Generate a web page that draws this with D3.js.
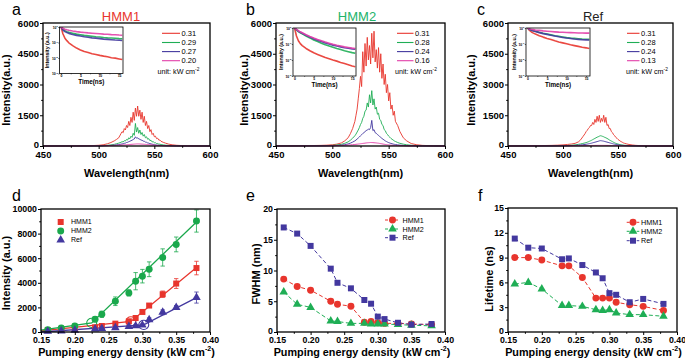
<!DOCTYPE html>
<html><head><meta charset="utf-8">
<script src="https://cdn.jsdelivr.net/npm/d3@7"></script>
<style>body{margin:0;background:#fff}svg{display:block}</style>
</head><body>
<svg id="c" width="685" height="360"></svg>
<script>
// ---------------- DATA ----------------
const wavelengths = [450,460,470,480,490,495,500,504,508,511,514,516,518,
 520,521,522,523,524,525,526,527,528,529,530,531,532,533,534,535,536,537,538,539,
 540,541,542,543,544,545,546,547,548,549,550,551,552,553,554,555,556,
 558,560,563,566,570,575,580,590,600];

const hmm1Labels = ["0.31","0.29","0.27","0.20"];
const hmm1Spec031 = [3,4,5,8,15,22,35,60,110,170,250,320,400,
 600,700,650,850,780,1000,900,1200,1000,1400,
 1150,1650,1250,1850,1450,1950,1450,1750,1300,1650,
 1150,1450,1000,1200,850,1000,700,800,560,620,
 450,480,360,380,290,290,230,
 180,140,90,60,35,20,10,5,3];
const hmm1Spec029 = [2,2,3,4,6,8,12,20,35,55,80,110,140,
 180,210,200,260,240,320,290,400,350,480,
 420,620,520,1100,680,900,620,780,560,660,
 480,560,400,450,330,360,260,280,200,210,
 160,160,120,120,90,90,70,
 55,40,28,18,10,6,3,2,1];
const hmm1Spec027 = [1,1,2,2,3,4,6,10,18,28,40,55,70,
 90,100,110,130,140,170,180,210,230,260,
 280,320,340,450,380,400,340,330,290,280,
 240,230,190,180,150,140,115,105,88,80,
 65,58,48,42,35,30,26,
 20,15,10,7,4,3,2,1,1];
const hmm1Spec020 = [1,1,2,3,5,7,10,14,20,26,32,37,42,
 47,50,53,57,60,64,68,72,76,80,
 84,88,92,96,100,102,100,98,95,92,
 88,84,80,75,70,65,60,55,50,45,
 41,37,33,30,27,24,22,
 18,15,11,8,5,3,2,1,1];

const hmm2Labels = ["0.31","0.28","0.24","0.16"];
const hmm2Spec031 = [10,12,15,20,30,40,60,90,150,250,400,600,850,
 1200,1500,1800,2300,2800,3400,2900,4600,3600,5000,
 3900,5300,4200,4900,4000,5500,4300,5600,4100,4700,
 3800,4800,3600,4500,3300,4000,3000,3500,2600,3000,
 2200,2600,1800,2000,1500,1700,1200,
 1000,700,400,250,120,60,30,10,5];
const hmm2Spec028 = [5,6,8,10,15,20,30,50,80,130,200,280,380,
 500,580,680,780,900,1050,1150,1350,1450,1700,
 1750,2100,1900,2500,2100,2700,2000,2300,1800,1900,
 1550,1600,1300,1250,1050,1000,800,750,620,560,
 480,430,370,330,290,250,220,
 170,130,90,60,35,18,10,4,2];
const hmm2Spec024 = [3,3,4,5,8,10,15,25,40,65,100,140,190,
 250,290,340,390,440,500,550,610,650,700,
 750,780,820,800,900,1250,750,800,650,620,
 560,520,460,420,370,330,290,250,220,190,
 165,145,125,110,95,82,72,
 55,42,28,18,10,6,3,2,1];
const hmm2Spec016 = [2,2,3,4,6,8,12,18,26,35,46,55,65,
 75,82,88,95,102,110,118,125,132,140,
 148,155,160,165,170,168,165,160,155,150,
 142,135,125,115,105,95,85,76,68,60,
 53,47,41,36,32,28,25,
 20,16,11,8,5,3,2,1,1];

const refLabels = ["0.31","0.28","0.24","0.13"];
const refSpec031 = [5,8,12,20,30,40,55,75,100,130,200,300,450,
 600,700,760,850,900,1000,1000,1150,1050,1300,
 1150,1450,1200,1500,1150,1350,1200,1500,1150,1400,
 1000,1050,850,850,700,650,550,500,420,380,
 320,280,240,210,180,150,130,
 100,75,50,32,18,10,6,3,2];
const refSpec028 = [3,4,5,7,10,13,18,25,38,55,80,100,125,
 150,165,185,205,230,255,280,310,340,370,
 400,430,450,480,500,490,470,450,420,400,
 370,340,300,270,240,210,180,155,130,110,
 95,80,68,58,50,42,36,
 28,22,15,10,6,4,2,1,1];
const refSpec024 = [2,2,3,4,6,8,10,14,20,28,40,50,62,
 75,84,94,104,115,127,140,155,170,185,
 200,215,230,250,260,255,245,235,220,205,
 190,175,160,145,130,115,100,88,76,65,
 56,48,41,35,30,26,22,
 17,13,9,6,4,2,1,1,1];
const refSpec013 = [3,3,4,5,6,7,8,9,11,13,15,17,19,
 20,21,22,23,24,25,26,27,28,29,
 30,30,31,31,32,32,31,31,30,30,
 29,28,27,26,25,24,23,22,21,20,
 19,18,17,16,15,14,13,
 12,10,9,7,6,5,4,3,2];

// inset decay curves (log10 of normalised intensity)
const decayTimes = [0,0.5,1,1.5,2,3,4,5,6,7,8,9,10,11,12,13,14,15,15.8];
const hmm1Decay = [
 [0,-0.45,-0.72,-0.88,-1.02,-1.2,-1.36,-1.48,-1.58,-1.64,-1.72,-1.77,-1.83,-1.88,-1.92,-1.98,-2.01,-2.06,-2.1],
 [0,-0.14,-0.24,-0.3,-0.34,-0.4,-0.46,-0.5,-0.54,-0.57,-0.6,-0.63,-0.65,-0.68,-0.7,-0.71,-0.73,-0.75,-0.76],
 [0,-0.2,-0.3,-0.36,-0.41,-0.48,-0.54,-0.58,-0.63,-0.66,-0.7,-0.72,-0.75,-0.78,-0.8,-0.82,-0.84,-0.85,-0.87],
 [0,-0.08,-0.14,-0.18,-0.21,-0.26,-0.3,-0.33,-0.35,-0.38,-0.4,-0.42,-0.44,-0.46,-0.47,-0.49,-0.5,-0.52,-0.53]];
const hmm2Decay = [
 [0,-0.5,-0.8,-0.98,-1.1,-1.28,-1.42,-1.55,-1.65,-1.75,-1.85,-1.92,-2.0,-2.07,-2.15,-2.22,-2.3,-2.38,-2.42],
 [0,-0.12,-0.22,-0.3,-0.37,-0.5,-0.62,-0.75,-0.85,-0.95,-1.05,-1.12,-1.2,-1.28,-1.35,-1.42,-1.48,-1.54,-1.58],
 [0,-0.1,-0.2,-0.27,-0.33,-0.45,-0.56,-0.67,-0.76,-0.85,-0.93,-1.0,-1.07,-1.13,-1.18,-1.23,-1.27,-1.31,-1.33],
 [0,-0.08,-0.17,-0.24,-0.3,-0.42,-0.53,-0.63,-0.72,-0.8,-0.88,-0.95,-1.02,-1.08,-1.13,-1.18,-1.22,-1.26,-1.28]];
const refDecay = [
 [0,-0.15,-0.25,-0.32,-0.38,-0.48,-0.57,-0.65,-0.72,-0.8,-0.87,-0.93,-0.99,-1.05,-1.1,-1.15,-1.2,-1.24,-1.28],
 [0,-0.08,-0.13,-0.17,-0.2,-0.27,-0.33,-0.38,-0.43,-0.48,-0.52,-0.56,-0.6,-0.63,-0.65,-0.67,-0.69,-0.7,-0.71],
 [0,-0.08,-0.14,-0.18,-0.22,-0.29,-0.35,-0.4,-0.45,-0.5,-0.55,-0.59,-0.63,-0.66,-0.69,-0.71,-0.73,-0.74,-0.75],
 [0,-0.05,-0.08,-0.1,-0.12,-0.15,-0.18,-0.2,-0.22,-0.24,-0.26,-0.27,-0.28,-0.29,-0.3,-0.31,-0.31,-0.32,-0.32]];

// pumping density panels
const pump = [0.16,0.18,0.20,0.23,0.24,0.26,0.28,0.29,0.30,0.31,0.33,0.35,0.38];
const intHMM1 = [150,220,280,380,490,680,870,1140,1630,2150,3070,3940,5200];
const errHMM1 = [30,40,50,60,80,80,100,120,120,150,260,400,550];
const intHMM2 = [190,330,490,1030,1440,2500,3180,4130,4540,5100,6060,7120,9020];
const errHMM2 = [60,80,100,200,250,350,250,700,550,600,700,600,900];
const intRef  = [50,90,140,250,290,350,450,500,560,1000,1600,2000,2800];
const errRef  = [30,30,40,50,60,70,80,90,100,150,200,150,450];
const fitHMM1 = [[0.15,90],[0.283,860],[0.38,5250]];
const fitHMM2 = [[0.15,150],[0.225,740],[0.38,8950]];
const fitRef  = [[0.15,0],[0.302,580],[0.38,2800]];

const fwhmHMM1 = [8.6,7.4,6.8,5.0,4.5,4.2,1.6,1.7,1.5,1.4,1.4,1.3,1.2];
const fwhmHMM2 = [6.5,4.5,4.0,1.8,1.7,1.4,1.4,1.3,1.3,1.3,1.2,1.1,1.0];
const fwhmRef  = [17,16,14,10.3,8.0,7.1,5.2,4.6,2.5,2.1,1.5,1.2,1.3];

const lifeHMM1 = [9.0,9.0,8.7,8.0,8.0,6.6,4.1,4.1,4.1,3.6,3.3,3.1,2.6];
const lifeHMM2 = [5.8,6.0,5.2,3.2,3.2,3.1,2.7,2.6,2.7,2.3,2.1,2.1,1.9];
const lifeRef  = [11.3,10.2,10.1,8.8,8.9,8.1,7.2,6.5,4.7,4.5,3.6,4.0,3.4];

const sampleNames = ["HMM1","HMM2","Ref"];

// ---------------- STYLE ----------------
const FONT = "'Liberation Sans', Arial, Helvetica, sans-serif";
const RED = "#e8352d", GREEN = "#1fae55", BLUE = "#43389f", PINK = "#e23fa8";
const specColors = [RED, GREEN, BLUE, PINK];
const svg = d3.select("#c").attr("font-family", FONT);

function drawAxes(g, x, y, o) {
  const yb = y.range()[0], yt = y.range()[1], xl = x.range()[0], xr = x.range()[1];
  const major = o.major ?? 3, minor = o.minor ?? 1.8;
  const bx = g.append("g").attr("transform", `translate(0,${yb})`);
  if (o.xMinor) bx.append("g").call(d3.axisBottom(x).tickValues(o.xMinor).tickSize(minor).tickFormat(""));
  bx.append("g").call(d3.axisBottom(x).tickValues(o.xTicks).tickSize(major).tickPadding(o.xpad ?? 1.5).tickFormat(o.xFmt));
  const ly = g.append("g").attr("transform", `translate(${xl},0)`);
  if (o.yMinor) ly.append("g").call(d3.axisLeft(y).tickValues(o.yMinor).tickSize(minor).tickFormat(""));
  ly.append("g").call(d3.axisLeft(y).tickValues(o.yTicks).tickSize(major).tickPadding(o.ypad ?? 1).tickFormat(o.yFmt));
  g.selectAll(".domain").remove();
  g.selectAll(".tick line").attr("stroke", "#000").attr("stroke-width", o.tw ?? 1);
  g.selectAll(".tick text").attr("font-size", o.fs).attr("font-weight", o.fw ?? "bold")
    .attr("font-family", FONT).attr("fill", "#000");
  g.append("rect").attr("x", xl).attr("y", yt).attr("width", xr - xl).attr("height", yb - yt)
    .attr("fill", "none").attr("stroke", "#000").attr("stroke-width", o.sw ?? 1.3);
  return {bx, ly};
}

function nudgeZero(ly) {
  // lift the y-axis "0" label a little so it clears the first x label
  ly.selectAll(".tick").filter(d => d === 0).select("text").attr("dy", "0.12em");
}

function supText(sel, main, sup, tail, supSize) {
  sel.append("tspan").text(main);
  sel.append("tspan").attr("dy", -supSize * 0.7).attr("font-size", supSize).text(sup);
  if (tail !== undefined) sel.append("tspan").attr("dy", supSize * 0.7).text(tail);
}

function rotText(x, y, txt, fs) {
  svg.append("text").attr("transform", `translate(${x},${y}) rotate(-90)`)
    .attr("text-anchor", "middle").attr("font-size", fs).attr("font-weight", "bold").text(txt);
}

let clipId = 0;
function clip(g, x0, y0, w, h) {
  const id = "cl" + (clipId++);
  svg.append("clipPath").attr("id", id).append("rect").attr("x", x0).attr("y", y0).attr("width", w).attr("height", h);
  return g.append("g").attr("clip-path", `url(#${id})`);
}

// ---------------- SPECTRA PANELS ----------------
function spectraPanel(p) {
  const g = svg.append("g");
  const x = d3.scaleLinear().domain([450, 600]).range([p.x0, p.x1]);
  const y = d3.scaleLinear().domain([0, 6000]).range([p.y1, p.y0]);
  const cg = clip(g, p.x0, p.y0, p.x1 - p.x0, p.y1 - p.y0 + 1);
  const line = d3.line().x((d, i) => x(wavelengths[i])).y(d => y(d));
  p.series.forEach((s, k) => {
    cg.append("path").datum(s).attr("d", line).attr("fill", "none")
      .attr("stroke", specColors[k]).attr("stroke-width", 0.9).attr("stroke-linejoin", "round");
  });
  const ax0 = drawAxes(g, x, y, {xTicks: [450, 500, 550, 600], xMinor: [475, 525, 575],
    yTicks: [0, 1500, 3000, 4500, 6000], yMinor: [750, 2250, 3750, 5250],
    xFmt: d3.format("d"), yFmt: d3.format("d"), fs: 9.5, xpad: 1.8});
  nudgeZero(ax0.ly);
  // titles
  svg.append("text").attr("x", p.letterX).attr("y", 14.6).attr("font-size", 16).text(p.letter);
  svg.append("text").attr("x", p.titleX).attr("y", 21).attr("text-anchor", "middle")
    .attr("font-size", 13).attr("fill", p.titleColor).text(p.title);
  rotText(p.ytX, p.ytY, "Intensity(a.u.)", 11);
  svg.append("text").attr("x", (p.x0 + p.x1) / 2).attr("y", 177.3).attr("text-anchor", "middle")
    .attr("font-size", 11).attr("font-weight", "bold").text("Wavelength(nm)");
  // legend
  const rows = [33.3, 42.5, 51.6, 60.7];
  p.labels.forEach((lab, k) => {
    svg.append("line").attr("x1", p.lx).attr("x2", p.lx + p.lw).attr("y1", rows[k]).attr("y2", rows[k])
      .attr("stroke", specColors[k]).attr("stroke-width", 1.1);
    svg.append("text").attr("x", p.lx + p.lw + 1.5).attr("y", rows[k] + 2.6).attr("font-size", 7.5).text(lab);
  });
  const ut = svg.append("text").attr("x", p.ux).attr("y", 74).attr("font-size", 7.2);
  supText(ut, "unit: kW cm", "-2", undefined, 4.8);
  // inset
  const ins = p.inset;
  const ig = svg.append("g");
  ig.append("rect").attr("x", ins.x0).attr("y", ins.y0).attr("width", ins.x1 - ins.x0).attr("height", ins.y1 - ins.y0).attr("fill", "#fff");
  const ix = d3.scaleLinear().domain([-0.4, 16]).range([ins.x0, ins.x1]);
  const iy = d3.scaleLog().domain([1e-3, 1]).range([ins.y1, ins.y0]);
  const icg = clip(ig, ins.x0, ins.y0, ins.x1 - ins.x0, ins.y1 - ins.y0);
  const il = d3.line().x((d, i) => ix(decayTimes[i])).y(d => iy(Math.pow(10, d)));
  p.decay.forEach((s, k) => {
    icg.append("path").datum(s).attr("d", il).attr("fill", "none").attr("stroke", specColors[k])
      .attr("stroke-width", 1.6).attr("stroke-linejoin", "round").attr("opacity", 0.9);
  });
  const ax = drawAxes(ig, ix, iy, {xTicks: [0, 5, 10, 15], xMinor: [2.5, 7.5, 12.5],
    yTicks: [1e-3, 1e-2, 1e-1, 1], xFmt: d3.format("d"), yFmt: () => "", fs: 3.4, major: 1.2, minor: 0.8,
    tw: 0.6, sw: 0.8, xpad: 0.3, ypad: 0.5});
  ax.ly.selectAll(".tick").each(function (d) {
    const t = d3.select(this).select("text");
    if (t.empty()) return;
    t.text(null).attr("font-size", 3.4);
    t.append("tspan").text("10");
    t.append("tspan").attr("dy", -1.5).attr("font-size", 2.4).text(Math.round(Math.log10(d)));
  });
  rotText(ins.x0 - 10.5, (ins.y0 + ins.y1) / 2, "Intensity (a.u.)", 5.3);
  ig.append("text").attr("x", (ins.x0 + ins.x1) / 2).attr("y", ins.y1 + 10.8).attr("text-anchor", "middle")
    .attr("font-size", 6.3).attr("font-weight", "bold").text("Time(ns)");
}

spectraPanel({x0: 43, x1: 210, y0: 23, y1: 146, series: [hmm1Spec031, hmm1Spec029, hmm1Spec027, hmm1Spec020],
  labels: hmm1Labels, decay: hmm1Decay, letter: "a", letterX: 12, title: "HMM1", titleX: 121, titleColor: RED,
  ytX: 10, ytY: 90, lx: 162, lw: 18, ux: 157.5,
  inset: {x0: 59.5, x1: 123, y0: 27, y1: 73.5}});
spectraPanel({x0: 276, x1: 445, y0: 23, y1: 146, series: [hmm2Spec031, hmm2Spec028, hmm2Spec024, hmm2Spec016],
  labels: hmm2Labels, decay: hmm2Decay, letter: "b", letterX: 246, title: "HMM2", titleX: 357, titleColor: "#22b36a",
  ytX: 248, ytY: 90, lx: 397, lw: 16.5, ux: 395,
  inset: {x0: 293, x1: 356, y0: 28, y1: 76}});
spectraPanel({x0: 508, x1: 673, y0: 23, y1: 146, series: [refSpec031, refSpec028, refSpec024, refSpec013],
  labels: refLabels, decay: refDecay, letter: "c", letterX: 477, title: "Ref", titleX: 593, titleColor: "#222",
  ytX: 475, ytY: 90, lx: 627, lw: 12.5, ux: 626,
  inset: {x0: 526, x1: 590, y0: 28, y1: 76}});

// ---------------- BOTTOM PANELS ----------------
const symSquare = d3.symbol().type(d3.symbolSquare).size(36);
const symCircle = d3.symbol().type(d3.symbolCircle).size(38);
const symTri = d3.symbol().type(d3.symbolTriangle).size(32);

function bottomCommon(p, x, y, letter, letterX, ytitle, ytX, ytY) {
  svg.append("text").attr("x", letterX).attr("y", 201).attr("font-size", 16).text(letter);
  rotText(ytX, ytY, ytitle, 11);
  const t = svg.append("text").attr("x", (p.x0 + p.x1) / 2 + 1).attr("y", 355.5).attr("text-anchor", "middle")
    .attr("font-size", 10.8).attr("font-weight", "bold");
  supText(t, "Pumping energy density (kW cm", "-2", ")", 7);
}

// panel d
(function () {
  const p = {x0: 41, x1: 210, y0: 209, y1: 332};
  const g = svg.append("g");
  const x = d3.scaleLinear().domain([0.15, 0.40]).range([p.x0, p.x1]);
  const y = d3.scaleLinear().domain([0, 10000]).range([p.y1, p.y0]);
  const sets = [
    {name: "HMM1", v: intHMM1, e: errHMM1, fit: fitHMM1, c: RED, sym: symSquare},
    {name: "HMM2", v: intHMM2, e: errHMM2, fit: fitHMM2, c: "#1aa84c", sym: symCircle},
    {name: "Ref", v: intRef, e: errRef, fit: fitRef, c: BLUE, sym: symTri}];
  const ln = d3.line().x(d => x(d[0])).y(d => y(d[1]));
  sets.forEach(s => {
    g.append("path").datum(s.fit).attr("d", ln).attr("fill", "none").attr("stroke", s.c).attr("stroke-width", 1.3);
    g.append("ellipse").attr("cx", x(s.fit[1][0])).attr("cy", y(s.fit[1][1])).attr("rx", 5).attr("ry", 4.6)
      .attr("fill", "none").attr("stroke", s.c).attr("stroke-width", 1.1);
  });
  sets.forEach(s => {
    pump.forEach((px, i) => {
      const cx = x(px), ya = y(s.v[i] + s.e[i]), yb = y(Math.max(0, s.v[i] - s.e[i]));
      g.append("line").attr("x1", cx).attr("x2", cx).attr("y1", ya).attr("y2", yb).attr("stroke", s.c).attr("stroke-width", 0.8);
      [ya, yb].forEach(yy => g.append("line").attr("x1", cx - 2.2).attr("x2", cx + 2.2).attr("y1", yy).attr("y2", yy)
        .attr("stroke", s.c).attr("stroke-width", 0.8));
    });
    g.selectAll(null).data(s.v).enter().append("path").attr("d", s.sym)
      .attr("transform", (d, i) => `translate(${x(pump[i])},${y(d)})`).attr("fill", s.c);
  });
  const ax = drawAxes(g, x, y, {xTicks: d3.range(0.15, 0.401, 0.05), xMinor: d3.range(0.175, 0.39, 0.05),
    yTicks: d3.range(0, 10001, 2000), yMinor: d3.range(1000, 10000, 2000),
    xFmt: d3.format(".2f"), yFmt: d3.format("d"), fs: 8.8, xpad: 2.2});
  nudgeZero(ax.ly);
  const rows = [222, 231, 240];
  sets.forEach((s, k) => {
    svg.append("path").attr("d", s.sym).attr("transform", `translate(60.7,${rows[k]})`).attr("fill", s.c);
    svg.append("text").attr("x", 71).attr("y", rows[k] + 2.4).attr("font-size", 7).text(s.name);
  });
  bottomCommon(p, x, y, "d", 12, "Intensity (a.u.)", 10, 273);
})();

function dashedPanel(p, data, yDomain, yTicks, yMinor, letter, letterX, ytitle, ytX, ytY, leg) {
  const g = svg.append("g");
  const x = d3.scaleLinear().domain([0.15, 0.40]).range([p.x0, p.x1]);
  const y = d3.scaleLinear().domain(yDomain).range([p.y1, p.y0]);
  const cols = [RED, "#1fae55", BLUE];
  const syms = [symCircle, symTri, symSquare];
  const ln = d3.line().x((d, i) => x(pump[i])).y(d => y(d));
  data.forEach((s, k) => {
    g.append("path").datum(s).attr("d", ln).attr("fill", "none").attr("stroke", cols[k])
      .attr("stroke-width", 1).attr("stroke-dasharray", "4,2.5");
  });
  data.forEach((s, k) => {
    g.selectAll(null).data(s).enter().append("path").attr("d", syms[k])
      .attr("transform", (d, i) => `translate(${x(pump[i])},${y(d)})`).attr("fill", cols[k]);
  });
  const ax = drawAxes(g, x, y, {xTicks: d3.range(0.15, 0.401, 0.05), xMinor: d3.range(0.175, 0.39, 0.05),
    yTicks, yMinor, xFmt: d3.format(".2f"), yFmt: d3.format("d"), fs: 8.8, xpad: 2.2});
  nudgeZero(ax.ly);
  sampleNames.forEach((nm, k) => {
    const yy = leg.rows[k];
    svg.append("line").attr("x1", leg.l0).attr("x2", leg.l1).attr("y1", yy).attr("y2", yy)
      .attr("stroke", cols[k]).attr("stroke-width", 1).attr("stroke-dasharray", "3,2");
    svg.append("path").attr("d", syms[k]).attr("transform", `translate(${(leg.l0 + leg.l1) / 2},${yy})`).attr("fill", cols[k]);
    svg.append("text").attr("x", leg.tx).attr("y", yy + 2.5).attr("font-size", 7.2).text(nm);
  });
  bottomCommon(p, x, y, letter, letterX, ytitle, ytX, ytY);
}

dashedPanel({x0: 277, x1: 445, y0: 209, y1: 332}, [fwhmHMM1, fwhmHMM2, fwhmRef], [0, 20],
  [0, 5, 10, 15, 20], [2.5, 7.5, 12.5, 17.5], "e", 246, "FWHM (nm)", 260, 274,
  {rows: [220, 229, 237.7], l0: 385, l1: 400, tx: 402.5});
dashedPanel({x0: 508, x1: 677, y0: 208, y1: 332}, [lifeHMM1, lifeHMM2, lifeRef], [0, 15],
  [0, 3, 6, 9, 12, 15], [1.5, 4.5, 7.5, 10.5, 13.5], "f", 478, "Lifetime (ns)", 493, 279,
  {rows: [222.3, 231.3, 240.7], l0: 626.7, l1: 639.3, tx: 641});
</script>
</body></html>
